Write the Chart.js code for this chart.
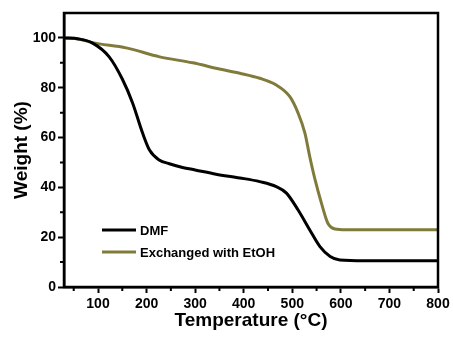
<!DOCTYPE html>
<html>
<head>
<meta charset="utf-8">
<script src="https://cdn.jsdelivr.net/npm/chart.js@4/dist/chart.umd.min.js"></script>
<style>
	html, body { margin: 0; padding: 0; background: #fff; }
	#wrap { width: 453px; height: 338px; }
</style>
</head>
<body>
<div id="wrap"><canvas id="tga"></canvas></div>
<script>
// TGA curves (temperature in °C, weight in %)
const dmfTemp = [30, 60, 88, 123, 150, 171, 192, 206, 226, 247, 274, 300, 343, 392, 433, 467, 488, 512, 536, 557, 578, 598, 650, 700, 800];
const dmfWeight = [100, 99.6, 98, 92.4, 83.5, 74, 61.7, 55, 51, 49.5, 48, 47, 45.3, 43.8, 42.3, 40.3, 37.7, 30.9, 22.9, 16.2, 12.2, 10.8, 10.5, 10.5, 10.5];

const etohTemp = [30, 60, 88, 158, 227, 295, 350, 392, 433, 467, 495, 512, 526, 536, 547, 560, 573, 588, 610, 700, 800];
const etohWeight = [100, 99.6, 98.1, 96, 92.4, 90, 87.5, 85.8, 83.8, 81.1, 76.4, 69.8, 61.8, 52.3, 43, 33.7, 25.7, 23.3, 23, 23, 23];

const seriesNames = ["DMF", "Exchanged with EtOH"];
const seriesColors = ["#000000", "#817b3b"];

const xMajor = [100, 200, 300, 400, 500, 600, 700, 800];
const xMinor = [50, 150, 250, 350, 450, 550, 650, 750];
const yMajor = [0, 20, 40, 60, 80, 100];
const yMinor = [10, 30, 50, 70, 90];

const FONT = "'Liberation Sans', Arial, sans-serif";

function toPoints(xs, ys) {
	return xs.map((x, i) => ({ x: x, y: ys[i] }));
}

// frame on all four sides + short minor ticks
const framePlugin = {
	id: "frame",
	afterDraw(chart) {
		const { ctx, chartArea: a, scales } = chart;
		ctx.save();
		ctx.strokeStyle = "#000";
		ctx.lineWidth = 2.5;
		ctx.strokeRect(a.left, a.top, a.right - a.left, a.bottom - a.top);

		ctx.lineWidth = 2;
		ctx.beginPath();
		xMinor.forEach((v) => {
			const px = scales.x.getPixelForValue(v);
			ctx.moveTo(px, a.bottom);
			ctx.lineTo(px, a.bottom + 4);
		});
		yMinor.forEach((v) => {
			const py = scales.y.getPixelForValue(v);
			ctx.moveTo(a.left, py);
			ctx.lineTo(a.left - 4, py);
		});
		ctx.stroke();
		ctx.restore();
	},
};

// legend drawn inside the plot, lower left
const legendPlugin = {
	id: "innerLegend",
	afterDraw(chart) {
		const { ctx, chartArea: a } = chart;
		ctx.save();
		ctx.font = "bold 13px " + FONT;
		ctx.textBaseline = "middle";
		chart.data.datasets.forEach((ds, i) => {
			const y = a.top + 217 + i * 22;
			ctx.strokeStyle = ds.borderColor;
			ctx.lineWidth = 3;
			ctx.beginPath();
			ctx.moveTo(a.left + 38, y);
			ctx.lineTo(a.left + 72, y);
			ctx.stroke();
			ctx.fillStyle = "#000";
			ctx.fillText(ds.label, a.left + 76, y + 1);
		});
		ctx.restore();
	},
};

new Chart(document.getElementById("tga"), {
	type: "line",
	data: {
		datasets: [
			{
				label: seriesNames[0],
				data: toPoints(dmfTemp, dmfWeight),
				borderColor: seriesColors[0],
				borderWidth: 3,
				pointRadius: 0,
				cubicInterpolationMode: "monotone",
			},
			{
				label: seriesNames[1],
				data: toPoints(etohTemp, etohWeight),
				borderColor: seriesColors[1],
				borderWidth: 3,
				pointRadius: 0,
				cubicInterpolationMode: "monotone",
			},
		],
	},
	options: {
		responsive: true,
		maintainAspectRatio: false,
		animation: false,
		layout: { padding: { left: 10, top: 13, right: 15, bottom: 6 } },
		plugins: {
			legend: { display: false },
			tooltip: { enabled: false },
		},
		scales: {
			x: {
				type: "linear",
				min: 30,
				max: 800,
				afterBuildTicks: (s) => {
					s.ticks = xMajor.map((v) => ({ value: v }));
				},
				afterFit: (s) => {
					s.height = 45;
				},
				ticks: {
					color: "#000",
					font: { family: FONT, size: 14, weight: "bold" },
					padding: 3,
					maxRotation: 0,
				},
				grid: {
					drawOnChartArea: false,
					tickLength: 6,
					tickWidth: 2,
					tickColor: "#000",
				},
				border: { color: "#000", width: 2.5 },
				title: {
					display: true,
					text: "Temperature (°C)",
					color: "#000",
					font: { family: FONT, size: 19, weight: "bold" },
					padding: { top: 0, bottom: 0 },
				},
			},
			y: {
				min: 0,
				max: 110,
				afterBuildTicks: (s) => {
					s.ticks = yMajor.map((v) => ({ value: v }));
				},
				afterFit: (s) => {
					s.width = 54;
				},
				ticks: {
					color: "#000",
					font: { family: FONT, size: 14, weight: "bold" },
					padding: 2,
				},
				grid: {
					drawOnChartArea: false,
					tickLength: 6,
					tickWidth: 2,
					tickColor: "#000",
				},
				border: { color: "#000", width: 2.5 },
				title: {
					display: true,
					text: "Weight (%)",
					color: "#000",
					font: { family: FONT, size: 19, weight: "bold" },
					padding: { top: 0, bottom: 0 },
				},
			},
		},
	},
	plugins: [framePlugin, legendPlugin],
});
</script>
</body>
</html>
